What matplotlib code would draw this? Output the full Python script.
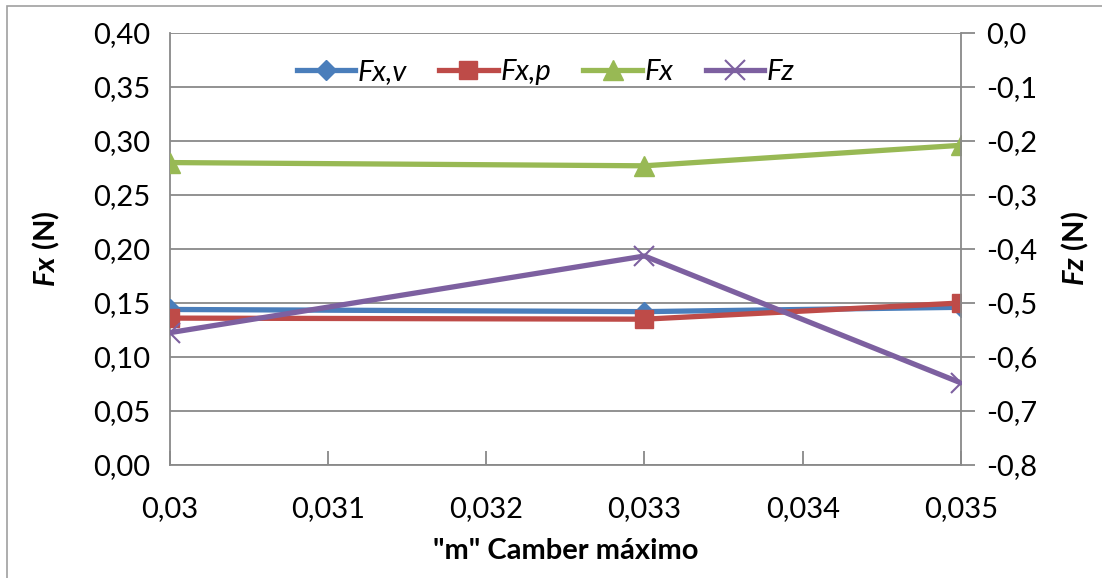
import matplotlib.pyplot as plt
from matplotlib.patches import Rectangle
from matplotlib.ticker import FuncFormatter

# Data
camber = [0.030, 0.033, 0.035]
fx_v = [0.144, 0.142, 0.146]
fx_p = [0.136, 0.135, 0.150]
fx = [0.280, 0.277, 0.296]
fz = [-0.555, -0.413, -0.648]

x_ticks = [0.030, 0.031, 0.032, 0.033, 0.034, 0.035]
x_labels = ["0,03", "0,031", "0,032", "0,033", "0,034", "0,035"]

plt.rcParams['font.family'] = ['Lato', 'DejaVu Sans']
plt.rcParams['mathtext.fontset'] = 'custom'
plt.rcParams['mathtext.rm'] = 'Lato'
plt.rcParams['mathtext.bf'] = 'Lato:bold'
plt.rcParams['mathtext.it'] = 'Lato:italic'
plt.rcParams['mathtext.bfit'] = 'Lato:bold:italic'

FS = 21
grey = "#898989"

fig = plt.figure(figsize=(11.02, 5.78), dpi=100)
ax = fig.add_axes([0.154, 0.1955, 0.718, 0.7475])
ax2 = ax.twinx()

# Chart frame
fig.patches.append(Rectangle((7 / 1102, -0.1), 1.2, 1 - 6 / 578 + 0.1, transform=fig.transFigure,
                             fill=False, edgecolor="#a0a0a0", linewidth=1.2))

lw = 3.8
l1, = ax.plot(camber, fx_v, color="#4A7EBB", lw=lw, marker="D", ms=10, label="Fx,v", zorder=3)
l2, = ax.plot(camber, fx_p, color="#BE4B48", lw=lw, marker="s", ms=13, label="Fx,p", zorder=3)
l3, = ax.plot(camber, fx, color="#98B954", lw=lw, marker="^", ms=15, label="Fx", zorder=3)
l4, = ax2.plot(camber, fz, color="#7D60A0", lw=lw, marker="x", ms=15, mew=1.5, label="Fz", zorder=3)

ax.set_xlim(0.030, 0.035)
ax.set_ylim(0, 0.40)
ax2.set_ylim(-0.8, 0.0)
ax.set_xticks(x_ticks)
ax.set_xticklabels(x_labels)
ax.set_yticks([i * 0.05 for i in range(9)])
ax.yaxis.set_major_formatter(FuncFormatter(lambda v, p: f"{v:.2f}".replace(".", ",")))
ax2.set_yticks([-0.8 + i * 0.1 for i in range(9)])
ax2.yaxis.set_major_formatter(FuncFormatter(lambda v, p: f"{v:.1f}".replace(".", ",").replace("-0,0", "0,0")))

ax.grid(axis="y", color=grey, lw=1.3)
ax.set_axisbelow(True)
for a in (ax, ax2):
    for s in a.spines.values():
        s.set_visible(False)
ax.spines["left"].set_visible(True)
ax.spines["bottom"].set_visible(True)
ax2.spines["right"].set_visible(True)
for s in (ax.spines["left"], ax.spines["bottom"], ax2.spines["right"]):
    s.set_color(grey)
    s.set_linewidth(1.3)

ax.tick_params(axis="x", direction="in", length=10, color=grey, width=1.3, labelsize=FS, pad=22)
ax.tick_params(axis="y", length=0, labelsize=FS, pad=14)
ax2.tick_params(axis="y", direction="out", length=10, color=grey, width=1.3, labelsize=FS, pad=8)

ax.set_xlabel('"m" Camber máximo', fontsize=FS, fontweight="bold", labelpad=12)
ax.set_ylabel(r'$\mathbfit{Fx}\ \mathbf{(N)}$', fontsize=FS, labelpad=22)
ax2.set_ylabel(r'$\mathbfit{Fz}\ \mathbf{(N)}$', fontsize=FS, labelpad=16)

leg = ax.legend(handles=[l1, l2, l3, l4], loc="upper center", bbox_to_anchor=(0.475, 1.0), ncol=4,
                frameon=False, prop={"style": "italic", "size": FS}, handlelength=2.0,
                handletextpad=0.1, columnspacing=1.1)

fig.savefig("out.png", dpi=100)
